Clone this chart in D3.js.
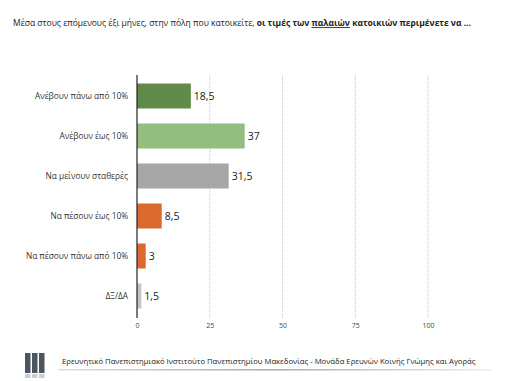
<!DOCTYPE html>
<html><head><meta charset="utf-8">
<script src="https://cdn.jsdelivr.net/npm/d3@7"></script>
<style>body{margin:0;background:#fff;}svg{display:block;font-family:"Open Sans",sans-serif;}</style>
</head><body>
<script>
const categories = ["Ανέβουν πάνω από 10%","Ανέβουν έως 10%","Να μείνουν σταθερές","Να πέσουν έως 10%","Να πέσουν πάνω από 10%","ΔΞ/ΔΑ"];
const values = [18.5, 37, 31.5, 8.5, 3, 1.5];
const valueLabels = ["18,5","37","31,5","8,5","3","1,5"];
const barColors = ["#5f8a4a","#92bf7e","#a6a6a6","#dc6a2f","#dc6a2f","#c4c4c4"];
const ticks = [0,25,50,75,100];

const W=507,H=381;
const svg=d3.select("body").append("svg").attr("width",W).attr("height",H);

const x=d3.scaleLinear().domain([0,100]).range([137,428]);
const y=d3.scaleBand().domain(categories).range([76,316]).paddingInner(0.375).paddingOuter(0.1875);

// title
const t=svg.append("text").attr("x",13).attr("y",26).attr("font-size",8.5).attr("fill","#222");
t.append("tspan").text("Μέσα στους επόμενους έξι μήνες, στην πόλη που κατοικείτε, ");
t.append("tspan").attr("font-weight","bold").text("οι τιμές των ");
t.append("tspan").attr("font-weight","bold").attr("text-decoration","underline").text("παλαιών");
t.append("tspan").attr("font-weight","bold").text(" κατοικιών περιμένετε να ...");

// grid
svg.append("g").selectAll("line").data(ticks.slice(1)).join("line")
  .attr("x1",d=>x(d)).attr("x2",d=>x(d)).attr("y1",75).attr("y2",318)
  .attr("stroke","#c4c4c4").attr("stroke-width",1).attr("stroke-dasharray","1,1");

// axis tick labels
const xa=d3.axisBottom(x).tickValues(ticks).tickSize(0).tickPadding(0);
const ga=svg.append("g").attr("transform","translate(0,323)").call(xa);
ga.select(".domain").remove();
ga.selectAll("text").attr("font-size",7).attr("fill","#444").attr("font-family","Open Sans, sans-serif");

// bars
svg.append("g").selectAll("rect").data(values).join("rect")
  .attr("x",x(0)).attr("y",(d,i)=>y(categories[i])).attr("width",d=>x(d)-x(0))
  .attr("height",y.bandwidth()).attr("fill",(d,i)=>barColors[i]);

// zero axis line
svg.append("line").attr("x1",x(0)).attr("x2",x(0)).attr("y1",75).attr("y2",318).attr("stroke","#222").attr("stroke-width",1.2);

// value labels
svg.append("g").selectAll("text").data(values).join("text")
  .attr("x",d=>x(d)+3).attr("y",(d,i)=>y(categories[i])+y.bandwidth()/2)
  .attr("dy","0.36em").attr("font-size",10.5).attr("fill","#222").text((d,i)=>valueLabels[i]);

// category labels
svg.append("g").selectAll("text").data(categories).join("text")
  .attr("x",128).attr("y",d=>y(d)+y.bandwidth()/2).attr("dy","0.35em")
  .attr("text-anchor","end").attr("font-size",8.3).attr("fill","#333").text(d=>d);

// footer logo
const logo=svg.append("g");
[25,32,39].forEach(lx=>{
  logo.append("rect").attr("x",lx).attr("y",353).attr("width",5.5).attr("height",20).attr("fill","#4b5661");
  logo.append("rect").attr("x",lx).attr("y",374).attr("width",5.5).attr("height",4).attr("fill","#c9ced3");
});
const grad=svg.append("defs").append("linearGradient").attr("id","fl");
grad.append("stop").attr("offset","0").attr("stop-color","#ddd");
grad.append("stop").attr("offset","0.5").attr("stop-color","#aaa");
grad.append("stop").attr("offset","1").attr("stop-color","#eee");
svg.append("rect").attr("x",58).attr("y",369).attr("width",434).attr("height",1.5).attr("fill","url(#fl)");
svg.append("text").attr("x",62).attr("y",364).attr("font-size",7.7).attr("fill","#222")
  .text("Ερευνητικό Πανεπιστημιακό Ινστιτούτο Πανεπιστημίου Μακεδονίας - Μονάδα Ερευνών Κοινής Γνώμης και Αγοράς");
</script>
</body></html>
